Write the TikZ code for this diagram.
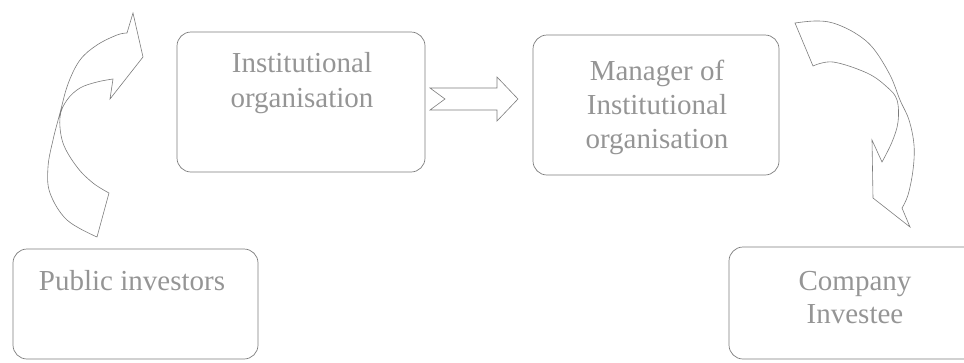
\documentclass[tikz,border=0pt]{standalone}
\usepackage{fontspec}
\setmainfont{Liberation Serif}
\definecolor{edgegray}{HTML}{7C7C7C}
\definecolor{textgray}{HTML}{959595}
\begin{document}
\begin{tikzpicture}[x=1pt,y=-1pt,
  box/.style={draw=edgegray, line width=0.7pt, rounded corners=14pt, inner sep=0pt},
  lbl/.style={text=textgray, font=\fontsize{29}{34}\selectfont, align=center, inner sep=0pt, anchor=base},
  shapeline/.style={draw=edgegray, line width=0.6pt, line join=miter}]
\useasboundingbox (0,0) rectangle (964,362);
\clip (0,0) rectangle (964,362);
% boxes
\node[box, minimum width=248pt, minimum height=140pt] (inst) at (301,102) {};
\node[box, minimum width=246pt, minimum height=140pt] (mgr) at (656,105) {};
\node[box, minimum width=245pt, minimum height=110pt] (pub) at (135.5,304) {};
\node[box, minimum width=251pt, minimum height=112pt] (comp) at (854.5,303) {};
% labels (anchor base = baseline of last line)
\node[lbl] (instT) at (302,107) {Institutional\\[1pt]organisation};
\node[lbl] (mgrT) at (657,148) {Manager of\\Institutional\\organisation};
\node[lbl] (pubT) at (132,290) {Public investors};
\node[lbl, font=\fontsize{29}{33}\selectfont] (compT) at (855,323) {Company\\Investee};
% block arrow between boxes
\coordinate (ba1) at (430,88);
\draw[shapeline] (ba1) -- (497,88) -- (497,77) -- (518,99) -- (497,121) -- (497,110) -- (430,110) -- (445,99) -- cycle;
% left curved arrow
\coordinate (la1) at (109,193);
\draw[shapeline] (la1) -- (97,237)
  -- plot[smooth, tension=0.6] coordinates {(97,237) (67,220) (50,193) (48,167) (53,140) (60,113) (68,84) (80,60) (97,45) (117,35) (127,33)}
  -- (133,13) -- (143,57) -- (110,99) -- (113,79)
  -- plot[smooth, tension=0.6] coordinates {(113,79) (97,82) (80,88) (67,100) (60,117) (63,143) (77,167) (93,183) (109,193)}
  -- cycle;
% right curved arrow
\coordinate (ra1) at (795,23);
\draw[shapeline] (ra1) -- (813,66)
  -- plot[smooth, tension=0.6] coordinates {(813,66) (833,62) (867,73) (887,87) (897,100) (898,122) (892,142) (882,162)}
  -- (872,140) -- (873,198) -- (910,227) -- (902,208)
  -- plot[smooth, tension=0.6] coordinates {(902,208) (908,195) (913,170) (914,145) (909,120) (900,100) (890,75) (873,48) (855,33) (833,23) (815,21) (795,23)}
  -- cycle;
\end{tikzpicture}
\end{document}
